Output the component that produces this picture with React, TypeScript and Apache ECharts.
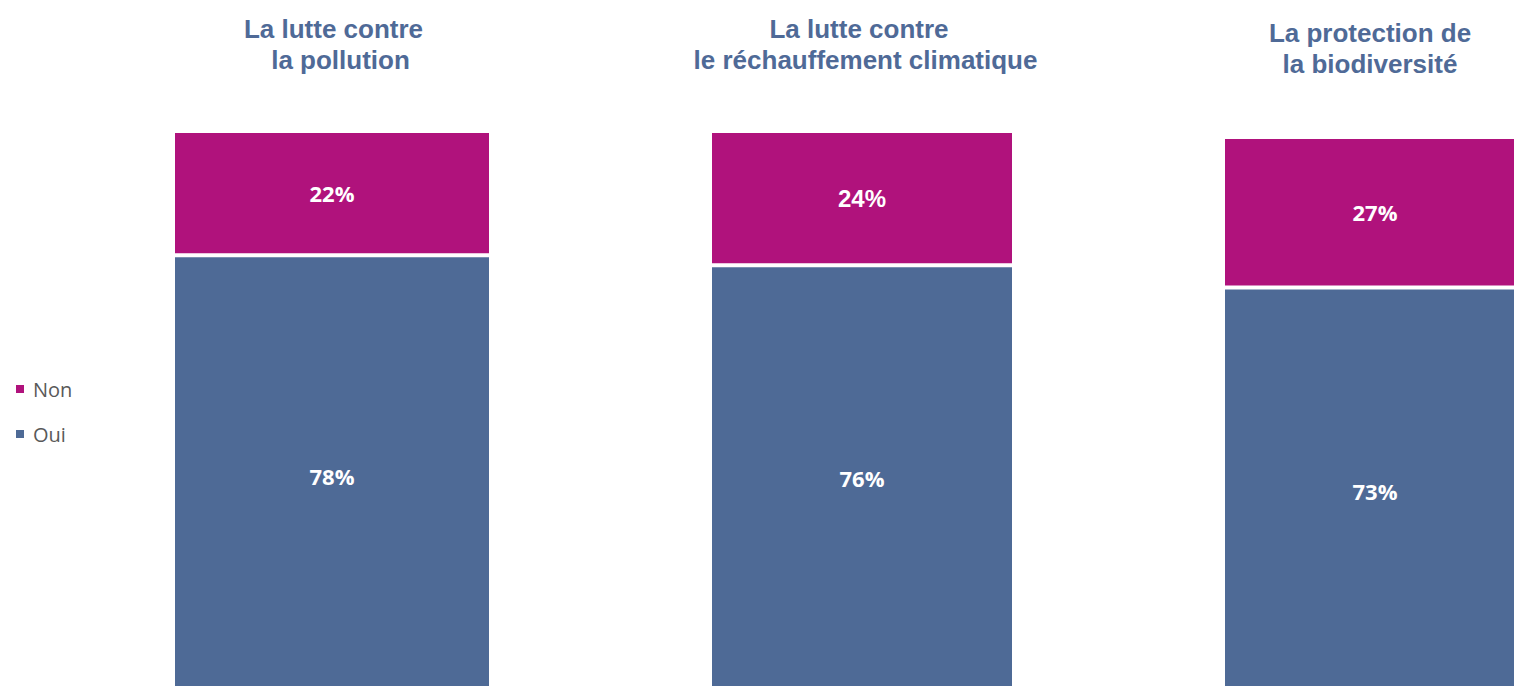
import React, { useEffect, useRef } from "react";
import * as echarts from "echarts";

const categories = [
  "La lutte contre la pollution",
  "La lutte contre le réchauffement climatique",
  "La protection de la biodiversité",
];
const titleLines = [
  ["La lutte contre", "la pollution"],
  ["La lutte contre", "le réchauffement climatique"],
  ["La protection de", "la biodiversité"],
];
const ouiValues = [78, 76, 73];
const nonValues = [22, 24, 27];
const legendNames = ["Non", "Oui"];

const BLUE = "#4E6A96";
const MAGENTA = "#B0127C";
const TITLE_COLOR = "#4F6A97";

// layout of the three panels (positions only)
const panels = [
  { left: 173, width: 318, top: 131, height: 565, titleX: [333.5, 340.5], titleY: 13 },
  { left: 710, width: 304, top: 131, height: 559, titleX: [859, 865.5], titleY: 13 },
  { left: 1223, width: 304, top: 137, height: 557, titleX: [1370, 1370], titleY: 17 },
];

export default function App() {
  const ref = useRef<HTMLDivElement>(null);
  useEffect(() => {
    if (!ref.current) return;
    const chart = echarts.init(ref.current, null, { renderer: "svg" });
    const grids = panels.map((p) => ({
      left: p.left,
      width: p.width,
      top: p.top,
      height: p.height,
      outerBoundsMode: "none",
      containLabel: false,
    }));
    const xAxes = panels.map((_, i) => ({
      type: "category",
      gridIndex: i,
      data: [categories[i]],
      show: false,
    }));
    const yAxes = panels.map((_, i) => ({
      type: "value",
      gridIndex: i,
      min: 0,
      max: 100,
      show: false,
    }));
    const baseLabel = {
      show: true,
      position: "inside",
      color: "#ffffff",
      fontWeight: "bold",
      fontSize: 22,
      fontFamily: "Open Sans",
      formatter: "{c}%",
    };
    const series: any[] = [];
    panels.forEach((_, i) => {
      series.push({
        type: "bar",
        name: "Oui",
        xAxisIndex: i,
        yAxisIndex: i,
        stack: "s" + i,
        barWidth: "100%",
        clip: false,
        data: [ouiValues[i]],
        itemStyle: { color: BLUE, borderColor: "#ffffff", borderWidth: 2 },
        label: { ...baseLabel },
      });
      series.push({
        type: "bar",
        name: "Non",
        xAxisIndex: i,
        yAxisIndex: i,
        stack: "s" + i,
        barWidth: "100%",
        clip: false,
        data: [nonValues[i]],
        itemStyle: { color: MAGENTA, borderColor: "#ffffff", borderWidth: 2 },
        label:
          i === 1
            ? { ...baseLabel, fontFamily: "Liberation Sans", fontSize: 24 }
            : { ...baseLabel },
      });
    });
    const graphics: any[] = [];
    panels.forEach((p, i) => {
      titleLines[i].forEach((line, j) => {
        graphics.push({
          type: "text",
          x: p.titleX[j],
          y: p.titleY + j * 31,
          style: {
            text: line,
            fill: TITLE_COLOR,
            font: "bold 26px 'Liberation Sans', Arial, sans-serif",
            textAlign: "center",
            textVerticalAlign: "top",
            lineHeight: 31,
          },
        });
      });
    });
    chart.setOption({
      animation: false,
      backgroundColor: "#ffffff",
      grid: grids,
      xAxis: xAxes,
      yAxis: yAxes,
      legend: {
        orient: "vertical",
        left: 16,
        top: 379,
        padding: 0,
        itemWidth: 8,
        itemHeight: 8,
        itemGap: 25,
        icon: "rect",
        data: legendNames,
        itemStyle: { borderWidth: 0 },
        textStyle: { color: "#595959", fontSize: 20, fontFamily: "Open Sans", padding: [0, 0, 0, 4] },
      },
      series,
      graphic: graphics,
    });
    return () => chart.dispose();
  }, []);
  return (
    <div
      ref={ref}
      style={{ position: "absolute", left: 0, top: 0, width: 1514, height: 686 }}
    />
  );
}
